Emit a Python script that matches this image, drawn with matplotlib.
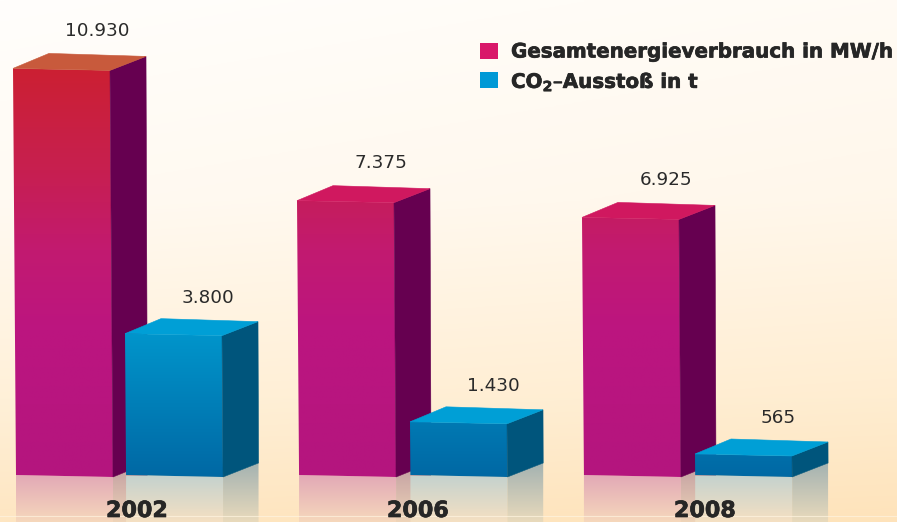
import matplotlib
matplotlib.use("Agg")
import matplotlib.pyplot as plt
import matplotlib.patheffects as pe
from matplotlib.colors import LinearSegmentedColormap, to_rgb
from matplotlib.patches import Polygon, Rectangle
import numpy as np

# Values
years = ["2002", "2006", "2008"]
energy = [10930, 7375, 6925]
co2 = [3800, 1430, 565]
energy_labels = ["10.930", "7.375", "6.925"]
co2_labels = ["3.800", "1.430", "565"]

# Layout, in figure pixels
W, H = 897, 522
BASE_PX = 475
PX_PER_UNIT = 0.0372
BAR_W = 97
DEPTH_X, DEPTH_Y = 36, 14
energy_left = [13, 297, 582]
co2_left = [125, 410, 695]
year_x = [137, 418, 705]
energy_top_colors = ["#c85a3c", "#d0185f", "#d0185f"]


def unit(px):
    # vertical distance in pixels -> data units
    return px / PX_PER_UNIT


def page_y(py):
    # pixel row -> data value
    return unit(BASE_PX - py)


fig = plt.figure(figsize=(W / 100, H / 100), dpi=100)
ax = fig.add_axes([0, 0, 1, 1])
ax.axis("off")

# Background: near white at the top, warm cream at the bottom, slightly warmer to the right
bg_rows = [0, 200, 400, 522]
bg_cols = np.array([to_rgb(c) for c in ["#fffefc", "#fffaf2", "#fff0d8", "#fee6c2"]])
rows = np.linspace(0, H, 200)
bg = np.stack([np.interp(rows, bg_rows, bg_cols[:, k]) for k in range(3)], axis=1)[:, None, :]
bg = np.repeat(bg, 100, axis=1)
tint = np.linspace(0, 1, 100)[None, :, None] * np.array([0.0, 0.012, 0.03])
bg = np.clip(bg - tint, 0, 1)
ax.imshow(bg, extent=(0, W, page_y(H), page_y(0)), aspect="auto", origin="upper", zorder=0)


def fill_gradient(points, stops, zorder):
    # stops: (pixel row, colour); the gradient runs by page row so all bars share it
    stop_rows = [s[0] for s in stops]
    pos = [(r - stop_rows[0]) / (stop_rows[-1] - stop_rows[0]) for r in stop_rows]
    cmap = LinearSegmentedColormap.from_list("g", list(zip(pos, [s[1] for s in stops])))
    xs = [p[0] for p in points]
    arr = cmap(np.linspace(0, 1, 256))[:, None, :]
    im = ax.imshow(arr, extent=(min(xs) - 1, max(xs) + 1, page_y(stop_rows[-1]), page_y(stop_rows[0])),
                   aspect="auto", origin="upper", zorder=zorder, interpolation="bilinear")
    clip = Polygon(points, closed=True, transform=ax.transData, fc="none", ec="none")
    ax.add_patch(clip)
    im.set_clip_path(clip)


def draw_bar(left, value, front_stops, side_color, top_color, refl, refl_side, z):
    height_px = value * PX_PER_UNIT
    lean = min(3, height_px * 0.0075)   # tall bars lean a little, as in the drawing
    tilt = unit(2)
    dx, dy = DEPTH_X, unit(DEPTH_Y)
    bl = (left + lean, 0)
    br = (left + lean + BAR_W, -tilt)
    tl = (left, value)
    tr = (left + BAR_W, value - tilt)
    front = [tl, tr, br, bl]
    side = [tr, (tr[0] + dx, tr[1] + dy), (br[0] + dx - lean / 2, br[1] + dy), br]
    top = [tl, tr, (tr[0] + dx, tr[1] + dy), (tl[0] + dx, tl[1] + dy + unit(1))]

    # Reflection on the floor
    fill_gradient([bl, br, (br[0], page_y(H)), (bl[0], page_y(H))], refl, z - 1)
    fill_gradient([br, side[2], (side[2][0], page_y(H)), (br[0], page_y(H))], refl_side, z - 1)

    fill_gradient(front, front_stops, z)
    ax.add_patch(Polygon(side, closed=True, fc=side_color, ec=side_color, lw=0.4, zorder=z))
    ax.add_patch(Polygon(top, closed=True, fc=top_color, ec=top_color, lw=0.4, zorder=z))


energy_stops = [(60, "#cc2030"), (170, "#c71f50"), (250, "#c21a70"), (330, "#bc1580"), (480, "#b4157e")]
co2_stops = [(330, "#0096cc"), (480, "#0067a3")]
energy_refl = [(474, "#e2a8b6"), (522, "#f6d8bc")]
energy_refl_side = [(466, "#c3a0a2"), (522, "#efd4b8")]
co2_refl = [(476, "#c5d2ce"), (522, "#f5e0c2")]
co2_refl_side = [(462, "#a3b2b1"), (522, "#e9dabc")]
bold_edge = [pe.withStroke(linewidth=0.5, foreground="#262626")]

for i in range(len(years)):
    draw_bar(energy_left[i], energy[i], energy_stops, "#660050", energy_top_colors[i],
             energy_refl, energy_refl_side, 3 + 2 * i)
    draw_bar(co2_left[i], co2[i], co2_stops, "#00557c", "#009fd6",
             co2_refl, co2_refl_side, 4 + 2 * i)
    ax.text(energy_left[i] + 84, energy[i] + unit(37.5), energy_labels[i], fontsize=13.2,
            color="#2a2a2a", ha="center", va="center", zorder=20)
    ax.text(co2_left[i] + 83, co2[i] + unit(35.5), co2_labels[i], fontsize=13.2,
            color="#2a2a2a", ha="center", va="center", zorder=20)
    ax.text(year_x[i], page_y(511), years[i], fontsize=16, fontweight="bold",
            color="#262626", ha="center", va="center", zorder=20, path_effects=bold_edge)

# Faint light line near the bottom edge
ax.plot([0, W], [page_y(516), page_y(516)], color="#fff4e0", lw=0.8, alpha=0.7, zorder=15)

# Legend
ax.add_patch(Rectangle((480, page_y(59)), 18, unit(16), fc="#d9186a", ec="none", zorder=20))
ax.add_patch(Rectangle((480, page_y(88)), 18, unit(16), fc="#0099d6", ec="none", zorder=20))
ax.text(511, page_y(52), "Gesamtenergieverbrauch in MW/h", fontsize=14.3, fontweight="bold",
        color="#262626", ha="left", va="center", zorder=20, path_effects=bold_edge)
ax.text(511, page_y(82), r"CO$_{\mathbf{2}}$–Ausstoß in t", fontsize=14.3, fontweight="bold",
        color="#262626", ha="left", va="center", zorder=20, path_effects=bold_edge)

ax.set_xlim(0, W)
ax.set_ylim(page_y(H), page_y(0))
fig.savefig("out.png", dpi=100)
